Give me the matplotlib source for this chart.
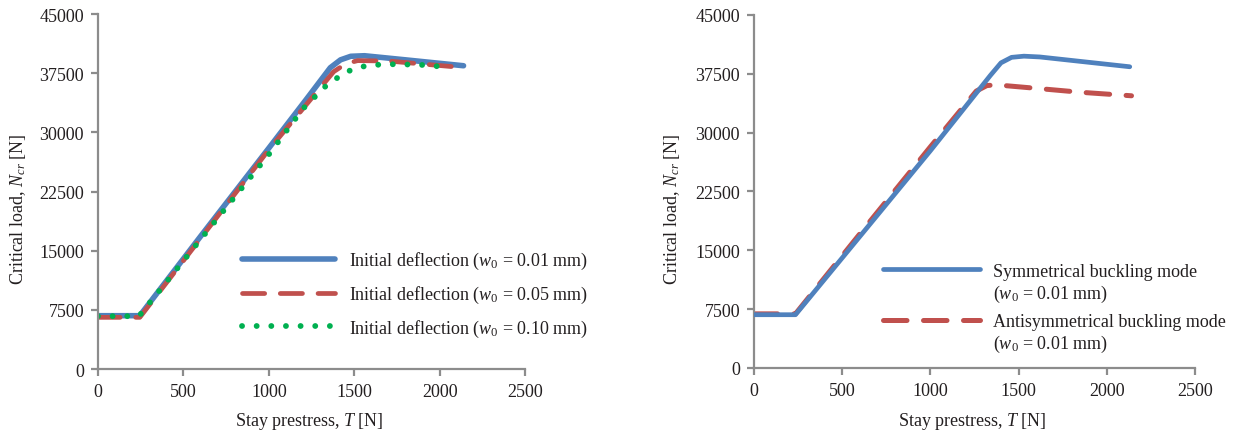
import matplotlib
matplotlib.use("Agg")
import matplotlib.pyplot as plt

plt.rcParams['font.family'] = ['Liberation Serif', 'DejaVu Serif']
plt.rcParams['mathtext.fontset'] = 'custom'
plt.rcParams['mathtext.rm'] = 'Liberation Serif'
plt.rcParams['mathtext.it'] = 'Liberation Serif:italic'

# left chart: initial deflection comparison
t_w001 = [0, 245, 600, 1000, 1220, 1360, 1420, 1480, 1560, 1800, 2140]
n_w001 = [6760, 6760, 16800, 28000, 34200, 38200, 39200, 39650, 39720, 39200, 38450]

t_w005 = [0, 245, 1000, 1380, 1450, 1520, 1700, 2120]
n_w005 = [6550, 6550, 27800, 37700, 38700, 39100, 39050, 38250]

t_w010 = [0, 240, 1000, 1200, 1330, 1400, 1470, 1550, 1650, 1750, 1900, 2060]
n_w010 = [6700, 6700, 27200, 33000, 35800, 36900, 37800, 38350, 38600, 38650, 38550, 38250]

# right chart: buckling modes
t_sym = [0, 235, 1000, 1340, 1400, 1460, 1530, 1620, 2130]
n_sym = [6790, 6790, 27700, 37300, 38900, 39600, 39750, 39650, 38400]

t_anti = [0, 235, 600, 1000, 1260, 1320, 1370, 1600, 1850, 2140]
n_anti = [6900, 6900, 17100, 28200, 35300, 36000, 36100, 35650, 35150, 34700]

xticks = [0, 500, 1000, 1500, 2000, 2500]
yticks = [0, 7500, 15000, 22500, 30000, 37500, 45000]

blue = '#4f81bd'
red = '#c0504d'
green = '#00b050'
grey = '#8c8c8c'
txt = '#231f20'
fs = 13


def style(ax):
    ax.set_xlim(0, 2500)
    ax.set_ylim(0, 45000)
    ax.set_xticks(xticks)
    ax.set_yticks(yticks)
    for s in ['top', 'right']:
        ax.spines[s].set_visible(False)
    for s in ['left', 'bottom']:
        ax.spines[s].set_color(grey)
        ax.spines[s].set_linewidth(1.6)
    ax.tick_params(direction='out', length=5, width=1.6, color=grey,
                   labelsize=fs, labelcolor=txt, pad=5)
    ax.set_xlabel('Stay prestress, $T$ [N]', fontsize=fs, color=txt)
    ax.set_ylabel('Critical load, $N_{cr}$ [N]', fontsize=fs, color=txt)


fig = plt.figure(figsize=(12.43, 4.31), dpi=100)
ax1 = fig.add_axes([0.0788, 0.1415, 0.3436, 0.8235])
ax2 = fig.add_axes([0.6066, 0.1439, 0.3548, 0.819])

ax1.plot(t_w001, n_w001, color=blue, lw=4, solid_capstyle='round',
         solid_joinstyle='round', label='Initial deflection ($w_0$ = 0.01 mm)')
ax1.plot(t_w005, n_w005, color=red, lw=3.4, dashes=(4.7, 3.3), dash_capstyle='round',
         label='Initial deflection ($w_0$ = 0.05 mm)')
ax1.plot(t_w010, n_w010, color=green, lw=4.2, dashes=(0.01, 2.5), dash_capstyle='round',
         label='Initial deflection ($w_0$ = 0.10 mm)')
style(ax1)
ax1.legend(loc='upper left', bbox_to_anchor=(0.337, 0.335), frameon=False,
           fontsize=fs, borderpad=0, borderaxespad=0, handlelength=5.15,
           handletextpad=0.78, labelspacing=0.7, labelcolor=txt)
ax1.yaxis.set_label_coords(-0.164, 0.454)
ax1.xaxis.set_label_coords(0.494, -0.115)

ax2.plot(t_anti, n_anti, color=red, lw=3.6, dashes=(4.7, 3.3), dash_capstyle='round',
         label='Antisymmetrical buckling mode', zorder=2)
ax2.plot(t_sym, n_sym, color=blue, lw=3.4, solid_capstyle='round',
         solid_joinstyle='round', label='Symmetrical buckling mode', zorder=3)
style(ax2)
h, l = ax2.get_legend_handles_labels()
leg = ax2.legend([h[1], h[0]], [l[1], l[0]], loc='upper left',
                 bbox_to_anchor=(0.2925, 0.298), frameon=False, fontsize=fs,
                 borderpad=0, borderaxespad=0, handlelength=5.37,
                 handletextpad=0.72, labelspacing=1.86, labelcolor=txt)
for t in leg.get_texts():
    ax2.annotate('($w_0$ = 0.01 mm)', xy=(0, 0), xycoords=t, xytext=(0, -2),
                 textcoords='offset points', ha='left', va='top',
                 fontsize=fs, color=txt, zorder=10, annotation_clip=False)
ax2.yaxis.set_label_coords(-0.164, 0.453)
ax2.xaxis.set_label_coords(0.494, -0.118)

fig.savefig('out.png', dpi=100)
